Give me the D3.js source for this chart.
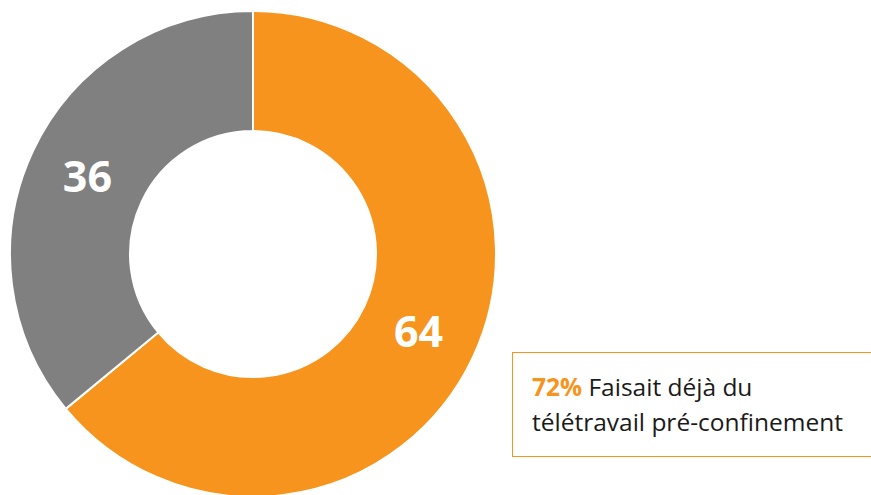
<!DOCTYPE html>
<html>
<head>
<meta charset="utf-8">
<script src="https://cdn.jsdelivr.net/npm/d3@7"></script>
<style>
  body { margin: 0; background: #fff; }
  svg { display: block; }
</style>
</head>
<body>
<div id="chart"></div>
<script>
// valeurs du donut
var categories = ["Oui", "Non"];
var values = [64, 36];
var colors = ["#F7941D", "#808080"];
var noteValue = "72%";
var noteLines = ["Faisait déjà du", "télétravail pré-confinement"];

var width = 871, height = 495;
var svg = d3.select("#chart").append("svg")
  .attr("width", width)
  .attr("height", height);

var cx = 253, cy = 254, outerR = 243, innerR = 123;

var pie = d3.pie().sort(null).value(d => d.value);
var arc = d3.arc().innerRadius(innerR).outerRadius(outerR);

var data = categories.map((c, i) => ({ cat: c, value: values[i] }));

var grp = svg.append("g").attr("transform", "translate(" + cx + "," + cy + ")");

grp.selectAll("path")
  .data(pie(data))
  .join("path")
  .attr("d", arc)
  .attr("fill", (d, i) => colors[i])
  .attr("stroke", "#fff")
  .attr("stroke-width", 2);

grp.selectAll("text.lbl")
  .data(pie(data))
  .join("text")
  .attr("class", "lbl")
  .attr("transform", d => "translate(" + arc.centroid(d) + ")")
  .attr("text-anchor", "middle")
  .attr("dy", "0.36em")
  .attr("fill", "#fff")
  .style("font-family", "'Open Sans', sans-serif")
  .style("font-weight", "bold")
  .style("font-size", "43px")
  .text(d => d.data.value);

// encadré
svg.append("rect")
  .attr("x", 512.5).attr("y", 352.5)
  .attr("width", 370).attr("height", 104)
  .attr("fill", "none")
  .attr("stroke", "#F7941D")
  .attr("stroke-width", 1);

var note = svg.append("text")
  .attr("x", 532).attr("y", 396)
  .style("font-family", "'Open Sans', sans-serif")
  .style("font-size", "24.5px")
  .attr("fill", "#1a1a1a");
note.append("tspan")
  .attr("fill", "#F7941D")
  .style("font-weight", "bold")
  .text(noteValue);
note.append("tspan").text(" " + noteLines[0]);

svg.append("text")
  .attr("x", 532).attr("y", 431)
  .style("font-family", "'Open Sans', sans-serif")
  .style("font-size", "24.5px")
  .attr("fill", "#1a1a1a")
  .text(noteLines[1]);
</script>
</body>
</html>
